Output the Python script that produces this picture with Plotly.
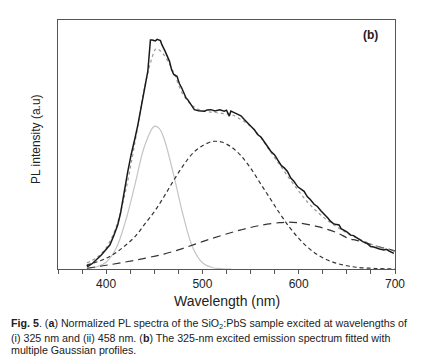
import plotly.graph_objects as go

# ---- data (wavelength nm, intensity in arbitrary units) ----
meas_x = [380, 381, 386, 391, 395, 399, 404, 408, 412, 415, 417, 420, 422.5, 426, 429, 430, 433, 436, 438, 441, 443.3,
          446, 448, 451, 453, 456.4, 458, 461.2, 463, 465.7, 468, 470.2, 473.6, 476, 478.5, 481, 483, 484.7,
          488.1, 491.6, 496, 502, 505, 508.9, 513, 518, 522.7, 525, 527.9, 529.5, 533, 536.5, 540, 543.5,
          547, 550.3, 554, 557.3, 561, 564.2, 568, 571, 575, 578, 582, 585, 588.3, 591.8, 595, 599, 602,
          605.6, 609, 612, 616, 619.4, 623, 626, 630, 633.2, 636, 638, 641.9, 644, 647, 650, 654, 657,
          660.9, 664, 667, 671, 674.7, 678, 681, 684, 688.5, 691, 694, 696, 698.8]
meas_y = [1.6, 1.0, 2.3, 4.0, 5.6, 7.4, 9.7, 13.5, 17.7, 22.5, 27.1, 33.0, 39.2, 46.0, 50.5, 52.6, 58.0, 64.5, 68.7, 74.5, 79.5,
          92.0, 92.0, 91.6, 92.2, 91.7, 90.0, 87.5, 86.0, 83.5, 80.0, 78.1, 77.4, 74.5, 72.7, 70.0, 68.7, 68.0,
          66.0, 64.0, 63.6, 63.4, 63.9, 64.0, 63.5, 63.9, 63.4, 63.8, 61.4, 63.4, 62.8, 62.3, 61.5, 60.0,
          58.8, 57.3, 55.9, 54.0, 52.9, 51.3, 49.0, 47.3, 45.8, 43.9, 41.5, 40.6, 39.2, 36.5, 35.2, 33.0, 32.2,
          31.2, 29.0, 27.9, 26.0, 25.1, 23.4, 22.3, 20.6, 19.1, 18.2, 18.0, 17.7, 16.2, 15.7, 14.9, 13.6, 13.4,
          12.4, 11.6, 10.9, 10.3, 9.0, 8.8, 8.3, 8.0, 7.6, 7.9, 7.2, 6.9, 6.3]

fit_x = [380, 390, 400, 410, 420, 430, 440, 447, 452, 460, 470, 480, 490, 500, 510, 520, 530, 540, 550, 560,
         570, 580, 590, 600, 610, 620, 630, 640, 650, 660, 670, 680, 690, 700]
fit_y = [2.5, 4.5, 8.5, 16.5, 31.0, 51.0, 73.0, 84.0, 88.5, 86.0, 79.0, 70.0, 65.5, 63.5, 63.0, 62.5, 62.0, 60.0, 57.3, 53.0,
         47.5, 42.0, 36.5, 31.3, 26.5, 22.7, 19.5, 16.8, 14.5, 12.5, 10.8, 9.3, 8.1, 7.0]

g1_x = [380, 390, 400, 410, 420, 430, 440, 450, 455, 460, 470, 480, 490, 500, 510, 520, 530]
g1_y = [0.2, 0.8, 2.7, 8.0, 19.0, 34.0, 49.5, 57.3, 56.5, 52.5, 38.0, 21.5, 8.5, 2.5, 0.6, 0.1, 0.0]

g2_x = [380, 390, 400, 410, 420, 430, 440, 450, 460, 470, 480, 490, 500, 510, 514, 520, 530, 540, 550, 560,
        570, 580, 590, 600, 610, 620, 630, 640, 650, 660, 680, 700]
g2_y = [1.6, 2.8, 4.3, 6.5, 9.5, 13.0, 18.0, 23.0, 29.0, 35.5, 41.5, 46.5, 49.5, 51.2, 51.3, 51.0, 49.0, 45.5, 40.5, 34.5,
        28.5, 22.5, 17.0, 12.3, 8.5, 5.6, 3.6, 2.2, 1.3, 0.7, 0.2, 0.05]

g3_x = [380, 400, 420, 440, 460, 480, 500, 520, 540, 560, 580, 590, 600, 620, 640, 652, 660, 680, 700]
g3_y = [0.3, 1.5, 2.8, 4.3, 6.0, 8.3, 11.0, 13.5, 15.7, 17.5, 18.6, 18.8, 18.5, 17.0, 14.5, 12.2, 11.5, 9.3, 7.3]

x_ticks = [400, 500, 600, 700]

fig = go.Figure()
fig.add_trace(go.Scatter(x=g1_x, y=g1_y, mode="lines", line=dict(color="#c4c4c4", width=1.2, shape="spline")))
fig.add_trace(go.Scatter(x=g3_x, y=g3_y, mode="lines", line=dict(color="#333333", width=1.2, dash="8px,5px", shape="spline")))
fig.add_trace(go.Scatter(x=g2_x, y=g2_y, mode="lines", line=dict(color="#333333", width=1.2, dash="4px,3px", shape="spline")))
fig.add_trace(go.Scatter(x=fit_x, y=fit_y, mode="lines", line=dict(color="#999999", width=1.2, dash="dot", shape="spline")))
fig.add_trace(go.Scatter(x=meas_x, y=meas_y, mode="lines", line=dict(color="#1a1a1a", width=1.5)))

L, R, T, B = 50, 35, 12, 98
W, H = 422, 359
pw, ph = W - L - R, H - T - B

def px(xp):
    return (xp - L) / pw

def py(yp):
    return (H - B - yp) / ph

font = "Liberation Sans, Arial, sans-serif"
anns = [
    dict(text="<b>(b)</b>", x=px(362), y=py(27), font=dict(size=12, color="#222")),
    dict(text="Wavelength (nm)", x=px(219), y=py(293), font=dict(size=14, color="#222")),
    dict(text="PL intensity (a.u)", x=px(28), y=py(131), textangle=-90, font=dict(size=12, color="#222")),
]
for a in anns:
    a.update(xref="paper", yref="paper", showarrow=False, xanchor="center", yanchor="middle")

cap = [
    ("<b>Fig. 5</b>. (<b>a</b>) Normalized PL spectra of the SiO<sub>2</sub>:PbS sample excited at wavelengths of", 316),
    ("(i) 325 nm and (ii) 458 nm. (<b>b</b>) The 325-nm excited emission spectrum fitted with", 330),
    ("multiple Gaussian profiles.", 342),
]
for t, yy in cap:
    anns.append(dict(text=t, x=px(1), y=py(yy), xref="paper", yref="paper", showarrow=False,
                     xanchor="left", yanchor="middle", font=dict(size=10.7, color="#222")))

fig.update_layout(
    width=W, height=H, margin=dict(l=L, r=R, t=T, b=B),
    paper_bgcolor="white", plot_bgcolor="white", showlegend=False,
    font=dict(family=font, color="#222"),
    annotations=anns,
    xaxis=dict(range=[350, 700], showgrid=False, zeroline=False, showline=True, linecolor="#555", linewidth=1,
               mirror=True, ticks="outside", ticklen=4, tickcolor="#555", tickvals=x_ticks,
               ticktext=[str(v) for v in x_ticks], tickfont=dict(size=12, color="#222"),
               minor=dict(ticks="outside", ticklen=4, dtick=25, tick0=350, tickcolor="#555")),
    yaxis=dict(range=[0, 100], showgrid=False, zeroline=False, showline=True, linecolor="#555", linewidth=1,
               mirror=True, ticks="", showticklabels=False),
)
fig.write_html("out.html")
